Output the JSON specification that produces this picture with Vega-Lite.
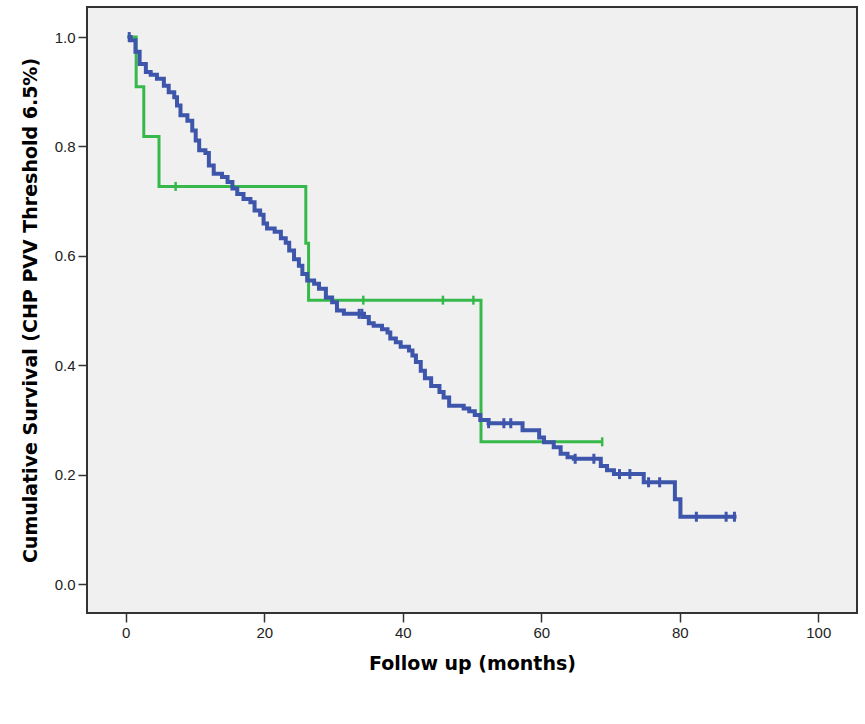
{
  "$schema": "https://vega.github.io/schema/vega-lite/v6.json",
  "width": 770,
  "height": 606,
  "autosize": {"type": "none"},
  "padding": {"left": 87, "top": 7, "right": 8, "bottom": 111},
  "background": "white",
  "config": {
    "view": {"fill": "#f0f0f0", "stroke": "#333333", "strokeWidth": 2},
    "axis": {
      "grid": false,
      "domain": false,
      "tickSize": 9,
      "tickWidth": 1.5,
      "tickColor": "#333333",
      "labelFont": "Liberation Sans, sans-serif",
      "labelFontSize": 15,
      "labelColor": "#222222",
      "labelPadding": 3,
      "titleFont": "DejaVu Sans, sans-serif",
      "titleFontSize": 19,
      "titleFontWeight": "bold",
      "titleColor": "#000000"
    }
  },
  "datasets": {
    "curve": [
      {"group": "A", "t": 0.3, "s": 1.0},
      {"group": "A", "t": 0.7, "s": 0.994},
      {"group": "A", "t": 1.4, "s": 0.973},
      {"group": "A", "t": 2.0, "s": 0.951},
      {"group": "A", "t": 2.9, "s": 0.936},
      {"group": "A", "t": 3.6, "s": 0.931},
      {"group": "A", "t": 4.5, "s": 0.924},
      {"group": "A", "t": 5.5, "s": 0.911},
      {"group": "A", "t": 6.2, "s": 0.899},
      {"group": "A", "t": 7.0, "s": 0.89},
      {"group": "A", "t": 7.4, "s": 0.875},
      {"group": "A", "t": 7.9, "s": 0.857},
      {"group": "A", "t": 8.9, "s": 0.847},
      {"group": "A", "t": 9.6, "s": 0.829},
      {"group": "A", "t": 10.1, "s": 0.811},
      {"group": "A", "t": 10.6, "s": 0.793},
      {"group": "A", "t": 11.5, "s": 0.788},
      {"group": "A", "t": 12.0, "s": 0.765},
      {"group": "A", "t": 12.7, "s": 0.75},
      {"group": "A", "t": 13.9, "s": 0.744},
      {"group": "A", "t": 14.7, "s": 0.735},
      {"group": "A", "t": 15.4, "s": 0.723},
      {"group": "A", "t": 16.1, "s": 0.713},
      {"group": "A", "t": 17.0, "s": 0.704},
      {"group": "A", "t": 18.0, "s": 0.698},
      {"group": "A", "t": 18.6, "s": 0.683},
      {"group": "A", "t": 19.4, "s": 0.675},
      {"group": "A", "t": 19.9, "s": 0.659},
      {"group": "A", "t": 20.4, "s": 0.65},
      {"group": "A", "t": 21.5, "s": 0.644},
      {"group": "A", "t": 22.4, "s": 0.632},
      {"group": "A", "t": 23.1, "s": 0.624},
      {"group": "A", "t": 23.6, "s": 0.61},
      {"group": "A", "t": 24.3, "s": 0.594},
      {"group": "A", "t": 25.0, "s": 0.582},
      {"group": "A", "t": 25.5, "s": 0.567},
      {"group": "A", "t": 26.2, "s": 0.555},
      {"group": "A", "t": 27.2, "s": 0.549},
      {"group": "A", "t": 27.9, "s": 0.54},
      {"group": "A", "t": 28.9, "s": 0.524},
      {"group": "A", "t": 29.8, "s": 0.515},
      {"group": "A", "t": 30.5, "s": 0.5},
      {"group": "A", "t": 31.5, "s": 0.494},
      {"group": "A", "t": 34.4, "s": 0.488},
      {"group": "A", "t": 35.1, "s": 0.477},
      {"group": "A", "t": 35.8, "s": 0.472},
      {"group": "A", "t": 37.0, "s": 0.466},
      {"group": "A", "t": 37.8, "s": 0.46},
      {"group": "A", "t": 38.2, "s": 0.449},
      {"group": "A", "t": 39.0, "s": 0.442},
      {"group": "A", "t": 39.7, "s": 0.434},
      {"group": "A", "t": 40.9, "s": 0.427},
      {"group": "A", "t": 41.4, "s": 0.418},
      {"group": "A", "t": 41.9, "s": 0.406},
      {"group": "A", "t": 42.6, "s": 0.39},
      {"group": "A", "t": 43.2, "s": 0.376},
      {"group": "A", "t": 44.1, "s": 0.362},
      {"group": "A", "t": 45.3, "s": 0.351},
      {"group": "A", "t": 45.9, "s": 0.341},
      {"group": "A", "t": 46.7, "s": 0.326},
      {"group": "A", "t": 48.8, "s": 0.321},
      {"group": "A", "t": 49.6, "s": 0.316},
      {"group": "A", "t": 50.4, "s": 0.309},
      {"group": "A", "t": 51.2, "s": 0.3},
      {"group": "A", "t": 52.4, "s": 0.294},
      {"group": "A", "t": 57.3, "s": 0.281},
      {"group": "A", "t": 59.7, "s": 0.268},
      {"group": "A", "t": 60.4, "s": 0.259},
      {"group": "A", "t": 61.8, "s": 0.25},
      {"group": "A", "t": 62.8, "s": 0.238},
      {"group": "A", "t": 63.8, "s": 0.232},
      {"group": "A", "t": 64.7, "s": 0.229},
      {"group": "A", "t": 68.6, "s": 0.216},
      {"group": "A", "t": 69.5, "s": 0.208},
      {"group": "A", "t": 70.5, "s": 0.201},
      {"group": "A", "t": 74.8, "s": 0.186},
      {"group": "A", "t": 79.3, "s": 0.155},
      {"group": "A", "t": 80.1, "s": 0.123},
      {"group": "A", "t": 88.2, "s": 0.123},
      {"group": "B", "t": 0.2, "s": 1.0},
      {"group": "B", "t": 1.5, "s": 0.909},
      {"group": "B", "t": 2.6, "s": 0.818},
      {"group": "B", "t": 4.8, "s": 0.727},
      {"group": "B", "t": 26.0, "s": 0.623},
      {"group": "B", "t": 26.4, "s": 0.519},
      {"group": "B", "t": 51.3, "s": 0.26},
      {"group": "B", "t": 68.8, "s": 0.26}
    ],
    "censored": [
      {"group": "A", "t": 0.5, "s": 1.0},
      {"group": "A", "t": 33.7, "s": 0.494},
      {"group": "A", "t": 34.1, "s": 0.494},
      {"group": "A", "t": 52.4, "s": 0.294},
      {"group": "A", "t": 54.6, "s": 0.294},
      {"group": "A", "t": 55.6, "s": 0.294},
      {"group": "A", "t": 64.9, "s": 0.229},
      {"group": "A", "t": 67.6, "s": 0.229},
      {"group": "A", "t": 71.3, "s": 0.201},
      {"group": "A", "t": 72.8, "s": 0.201},
      {"group": "A", "t": 75.5, "s": 0.186},
      {"group": "A", "t": 77.1, "s": 0.186},
      {"group": "A", "t": 82.4, "s": 0.123},
      {"group": "A", "t": 86.7, "s": 0.123},
      {"group": "A", "t": 87.9, "s": 0.123},
      {"group": "B", "t": 7.2, "s": 0.727},
      {"group": "B", "t": 34.3, "s": 0.519},
      {"group": "B", "t": 45.8, "s": 0.519},
      {"group": "B", "t": 50.2, "s": 0.519},
      {"group": "B", "t": 68.8, "s": 0.26}
    ]
  },
  "encoding": {
    "x": {
      "field": "t",
      "type": "quantitative",
      "scale": {"domain": [-5.6, 105.6], "nice": false, "zero": false},
      "axis": {"values": [0, 20, 40, 60, 80, 100], "title": "Follow up (months)", "titlePadding": 14}
    },
    "y": {
      "field": "s",
      "type": "quantitative",
      "scale": {"domain": [-0.053, 1.055], "nice": false, "zero": false},
      "axis": {"values": [0, 0.2, 0.4, 0.6, 0.8, 1.0], "format": ".1f", "title": "Cumulative Survival (CHP PVV Threshold 6.5%)", "titlePadding": 14}
    }
  },
  "layer": [
    {
      "data": {"name": "curve"},
      "transform": [{"filter": "datum.group == 'B'"}],
      "mark": {"type": "line", "interpolate": "step-after", "color": "#36b94a", "strokeWidth": 3}
    },
    {
      "data": {"name": "curve"},
      "transform": [{"filter": "datum.group == 'A'"}],
      "mark": {"type": "line", "interpolate": "step-after", "color": "#3d55aa", "strokeWidth": 4}
    },
    {
      "data": {"name": "censored"},
      "transform": [{"filter": "datum.group == 'B'"}],
      "mark": {"type": "tick", "orient": "vertical", "size": 9, "thickness": 2.5, "color": "#36b94a", "opacity": 1}
    },
    {
      "data": {"name": "censored"},
      "transform": [{"filter": "datum.group == 'A'"}],
      "mark": {"type": "tick", "orient": "vertical", "size": 10, "thickness": 3, "color": "#3d55aa", "opacity": 1}
    }
  ]
}
